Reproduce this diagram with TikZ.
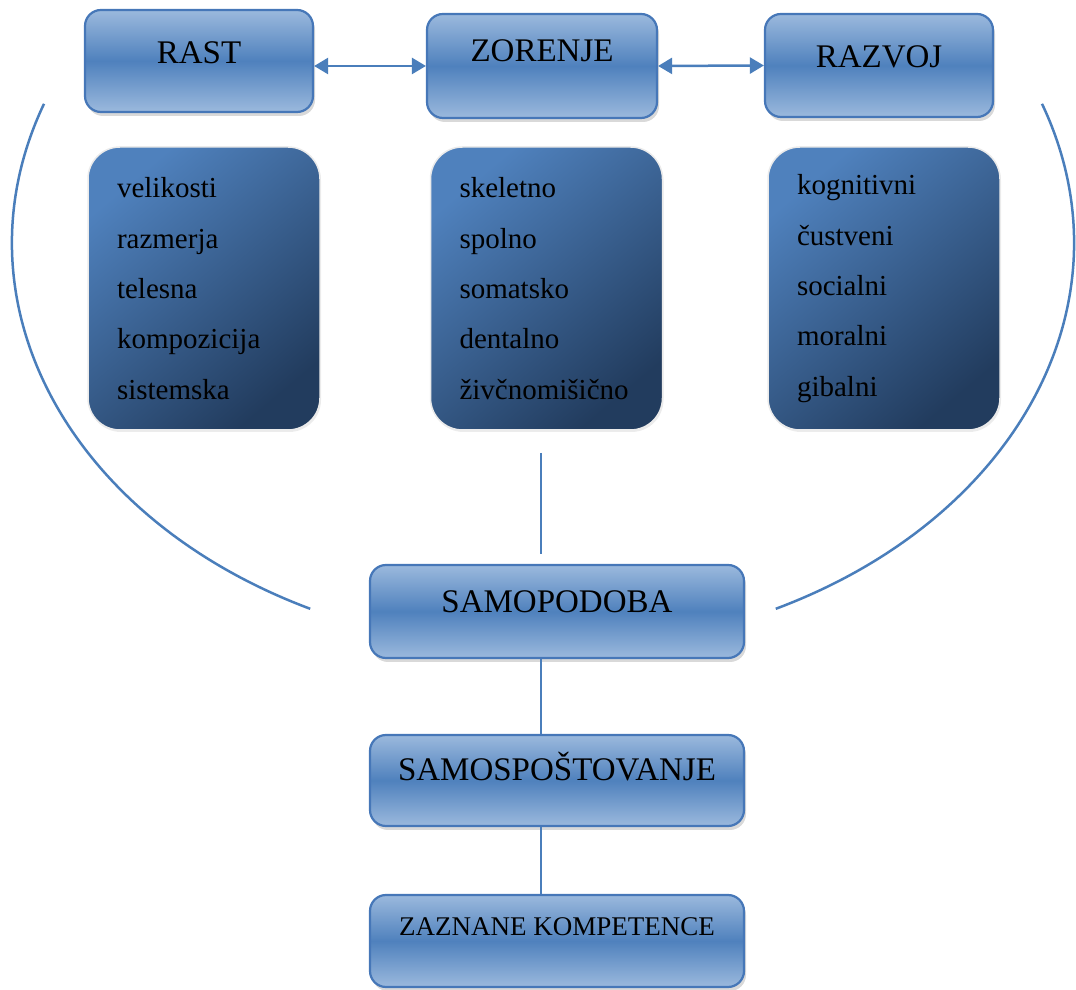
\documentclass[tikz,border=0pt]{standalone}
\usepackage{fontspec}
\setmainfont{Liberation Serif}
\usetikzlibrary{arrows.meta,shadows}

\definecolor{boxlight}{HTML}{9BB9DD}
\definecolor{boxmid}{HTML}{4F81BD}
\definecolor{boxedge}{HTML}{4677B8}
\definecolor{listtop}{HTML}{4F81BD}
\definecolor{listbot}{HTML}{223C5E}
\definecolor{linkblue}{HTML}{4A7EBB}

\tikzset{
  headbox/.style={draw=boxedge,line width=2.2pt,rounded corners=16pt,
    top color=boxlight,bottom color=boxlight,middle color=boxmid,
    drop shadow={shadow xshift=2pt,shadow yshift=-4pt,opacity=0.3},
    font=\fontsize{33}{36}\selectfont,text height=22pt,text depth=#1,
    inner sep=0pt},
  headbox/.default=16pt,
  listbox/.style={draw=black!8,line width=1.5pt,rounded corners=32pt,
    top color=listtop,bottom color=listbot,shading angle=40,
    drop shadow={shadow xshift=1pt,shadow yshift=-2pt,opacity=0.15},
    font=\fontsize{29}{50.3}\selectfont,align=left,text width=174pt,
    inner xsep=29pt,minimum width=232pt,minimum height=283pt},
  twoway/.style={{Triangle[length=14pt,width=16pt]}-{Triangle[length=14pt,width=16pt]},
    draw=linkblue,line width=2.5pt},
  stem/.style={draw=linkblue,line width=2.5pt},
  rim/.style={draw=linkblue,line width=2.5pt}
}

\begin{document}
\begin{tikzpicture}[x=1pt,y=1pt]
\useasboundingbox (0,0) rectangle (1076,990);

% outer arcs
\draw[rim] (543,747) ++(160:531 and 407) arc[start angle=160,end angle=244,x radius=531,y radius=407];
\draw[rim] (543,747) ++(20:531 and 407) arc[start angle=20,end angle=-64,x radius=531,y radius=407];

% top row
\node[headbox,minimum width=228pt,minimum height=102pt] (rast) at (199,929) {RAST};
\node[headbox=30pt,minimum width=230pt,minimum height=104pt] (zor) at (542,924) {ZORENJE};
\node[headbox=17pt,minimum width=228pt,minimum height=103pt] (razvoj) at (879,924.5) {RAZVOJ};

\draw[twoway] (rast.east |- zor.west) -- (zor.west);
\draw[twoway] (zor.east) -- (razvoj.west);

% lists
\node[listbox] (rastlist) at (204,701.5) {velikosti\\razmerja\\telesna\\kompozicija\\sistemska};
\node[listbox] (zorlist) at (546.5,701.5) {skeletno\\spolno\\somatsko\\dentalno\\živčnomišično};
\node[listbox] (razvojlist) at (884,701.5) {kognitivni\\čustveni\\socialni\\moralni\\gibalni};

% bottom column
\node[headbox=20pt,minimum width=374pt,minimum height=93pt] (self) at (557,378.5) {SAMOPODOBA};
\node[headbox=22pt,minimum width=374pt,minimum height=91pt] (resp) at (557,209.5) {SAMOSPOŠTOVANJE};
\node[headbox=28pt,minimum width=374pt,minimum height=92pt,
  font=\fontsize{27}{30}\selectfont,text height=18pt] (comp) at (557,49) {ZAZNANE KOMPETENCE};

\coordinate (stemtop) at (541,537);
\draw[stem,shorten >=10pt] (stemtop) -- (stemtop |- self.north);
\draw[stem] (stemtop |- self.south) -- (stemtop |- resp.north);
\draw[stem] (stemtop |- resp.south) -- (stemtop |- comp.north);
\end{tikzpicture}
\end{document}
